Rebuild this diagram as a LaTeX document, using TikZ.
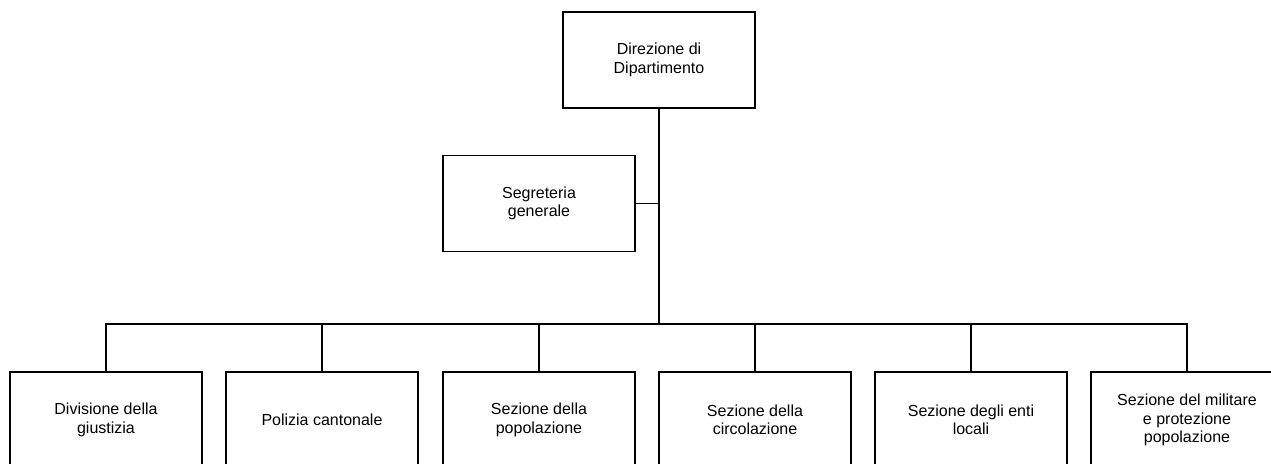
\documentclass[tikz,border=0pt]{standalone}
\usepackage{fontspec}
\setmainfont{Liberation Sans}

\begin{document}
\begin{tikzpicture}[x=0.5pt, y=-0.5pt,
    orgbox/.style={draw, line width=0.9pt, minimum width=96pt, minimum height=48pt,
        align=center, inner sep=0pt, font=\fontsize{8}{9.2}\selectfont},
    link/.style={line width=0.9pt}]
    \useasboundingbox (0,0) rectangle (1271,463);
    \clip (0,0) rectangle (1271,463);

    % Direction and secretariat
    \node[orgbox] (dir) at (659,60) {Direzione di\\Dipartimento};
    \node[orgbox] (seg) at (539,203.5) {Segreteria\\generale};

    % Sections
    \node[orgbox] (giu) at (106,420) {Divisione della\\giustizia};
    \node[orgbox] (pol) at (322,420) {Polizia cantonale};
    \node[orgbox] (pop) at (539,420) {Sezione della\\popolazione};
    \node[orgbox] (cir) at (755,420) {Sezione della\\circolazione};
    \node[orgbox] (enti) at (971,420) {Sezione degli enti\\locali};
    \node[orgbox] (mil) at (1187,420) {Sezione del militare\\e protezione\\popolazione};

    % Connectors
    \coordinate (bus) at (659,324);
    \draw[link] (dir.south) -- (bus);
    \draw[link] (seg.east) -- (seg.east -| dir.south);
    \foreach \n in {giu,pol,pop,cir,enti,mil}
        \draw[link] (bus) -| (\n.north);
\end{tikzpicture}
\end{document}
